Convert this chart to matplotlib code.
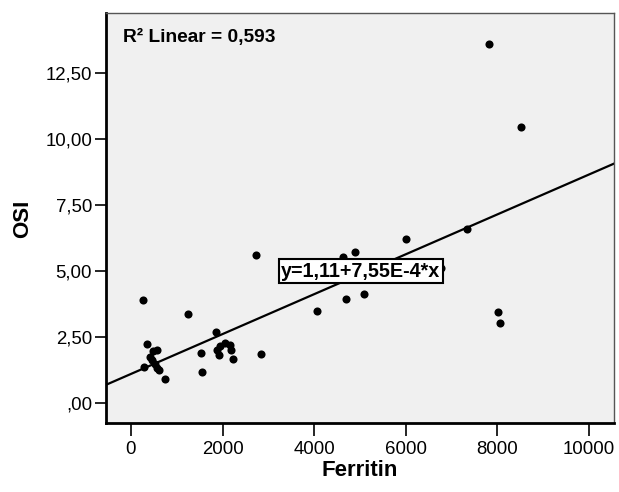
import matplotlib
matplotlib.use("Agg")
import matplotlib.pyplot as plt
from matplotlib.ticker import FixedLocator, FuncFormatter

plt.rcParams['font.family'] = ['Liberation Sans', 'DejaVu Sans']

# Data
ferritin = [256, 1245, 1857, 356, 487, 575, 415, 459, 284, 518, 575, 618, 736,
            1530, 1551, 1873, 1916, 2047, 2163, 2192, 2235, 1945, 2847, 2731,
            4639, 4894, 4700, 5098, 4071, 6009, 7344, 7816, 8515, 8019, 8069, 6780]
osi = [3.90, 3.37, 2.70, 2.25, 1.97, 2.00, 1.75, 1.62, 1.39, 1.47, 1.34, 1.27, 0.90,
       1.92, 1.20, 2.03, 1.84, 2.28, 2.22, 2.03, 1.66, 2.15, 1.86, 5.62,
       5.52, 5.73, 3.95, 4.13, 3.49, 6.21, 6.58, 13.62, 10.48, 3.46, 3.03, 5.13]

intercept = 1.11
slope = 7.55e-4
r2_text = "R\u00b2 Linear = 0,593"
eq_text = "y=1,11+7,55E-4*x"

x_ticks = [0, 2000, 4000, 6000, 8000, 10000]
y_ticks = [0, 2.5, 5.0, 7.5, 10.0, 12.5]
xlim = (-546, 10550)
ylim = (-0.76, 14.76)

fig = plt.figure(figsize=(6.19, 4.92), dpi=100)
ax = fig.add_axes([0.1712, 0.1396, 0.8208, 0.833])
ax.set_facecolor('#F0F0F0')

ax.scatter(ferritin, osi, s=34, color='black', zorder=3, linewidths=0)
ax.plot(list(xlim), [intercept + slope * xlim[0], intercept + slope * xlim[1]],
        color='black', lw=1.6, zorder=2)

ax.set_xlim(*xlim)
ax.set_ylim(*ylim)
ax.xaxis.set_major_locator(FixedLocator(x_ticks))
ax.yaxis.set_major_locator(FixedLocator(y_ticks))

def yfmt(v, pos):
    s = f"{v:.2f}".replace('.', ',')
    if s.startswith('0,'):
        s = s[1:]
    return s

ax.yaxis.set_major_formatter(FuncFormatter(yfmt))
ax.xaxis.set_major_formatter(FuncFormatter(lambda v, p: f"{int(v)}"))

ax.tick_params(axis='both', labelsize=13.4, colors='black', width=1.2)
ax.tick_params(axis='y', length=8, pad=2)
ax.tick_params(axis='x', length=9, pad=4)

for side in ['left', 'bottom']:
    ax.spines[side].set_linewidth(2.0)
    ax.spines[side].set_color('black')
for side in ['top', 'right']:
    ax.spines[side].set_linewidth(1.0)
    ax.spines[side].set_color('#555555')

ax.set_xlabel('Ferritin', fontsize=16, fontweight='bold', labelpad=1)
ax.set_ylabel('OSI', fontsize=16, fontweight='bold', labelpad=9)

ax.text(0.0335, 0.931, r2_text, transform=ax.transAxes, fontsize=13.8,
        fontweight='bold', ha='left', va='baseline')

ax.text(5015, 5.0, eq_text, fontsize=14.2, fontweight='bold', ha='center',
        va='center', zorder=5,
        bbox=dict(boxstyle='square,pad=0.12', facecolor='white',
                  edgecolor='black', linewidth=1.5))

fig.savefig('out.png', dpi=100)
